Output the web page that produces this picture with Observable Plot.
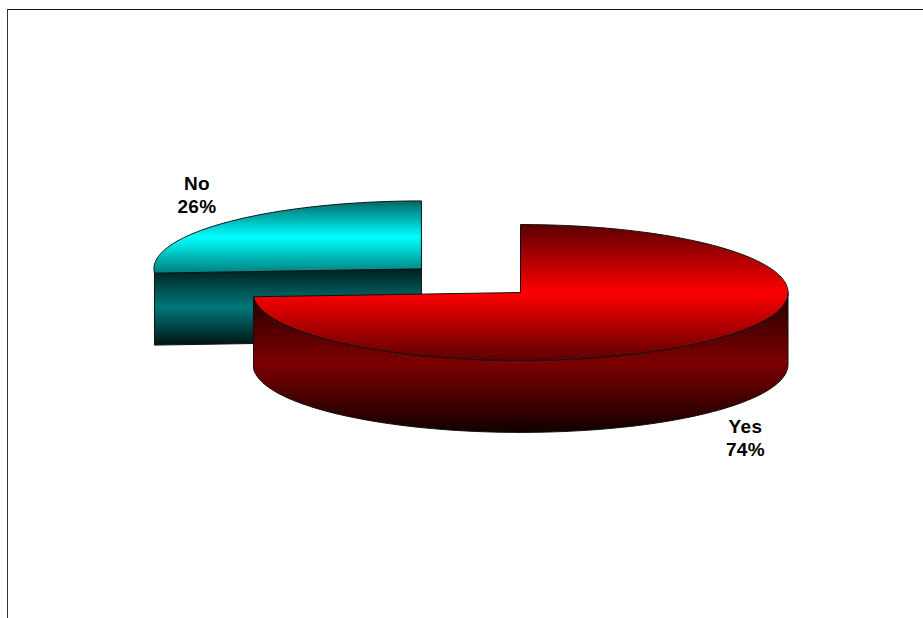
<!DOCTYPE html>
<html>
<head>
<meta charset="utf-8">
<script src="https://cdn.jsdelivr.net/npm/d3@7"></script>
<script src="https://cdn.jsdelivr.net/npm/@observablehq/plot@0.6"></script>
<style>
  html, body { margin: 0; padding: 0; background: #fff; }
  svg { display: block; }
  svg text { letter-spacing: 0.4px; }
</style>
</head>
<body>
<script>
// Survey result
const categories = ["Yes", "No"];
const shares = [74, 26];

// Pie model: one unit is one pie radius.
const pxPerUnit = 267.5;
const tilt = 0.254;        // flattening of the circle into an ellipse
const depth = 0.269;       // thickness of the disc
const explode = 0.508;     // how far the "No" slice is pulled out
const width = 923, height = 618;
const originX = 520, originY = 292;

const xDomain = [-originX / pxPerUnit, (width - originX) / pxPerUnit];
const yDomain = [originY / pxPerUnit, (originY - height) / pxPerUnit];

// Slice angles in radians, clockwise from twelve o'clock.
const total = d3.sum(shares);
let running = 0;
const slices = categories.map((name, i) => {
  const start = (running / total) * 2 * Math.PI;
  running += shares[i];
  const end = (running / total) * 2 * Math.PI;
  const mid = (start + end) / 2;
  const off = name === "No" ? explode : 0;
  return {name, share: shares[i], start, end, mid,
          cx: off * Math.sin(mid), cy: off * Math.cos(mid) * tilt};
});

const rim = (s, a, drop = 0) => ({
  x: s.cx + Math.sin(a),
  y: s.cy + Math.cos(a) * tilt - drop
});
const sweep = (a0, a1) => {
  const n = Math.max(2, Math.ceil(Math.abs(a1 - a0) / (Math.PI / 180)));
  return d3.range(n + 1).map(i => a0 + ((a1 - a0) * i) / n);
};
const centre = (s, drop = 0) => ({x: s.cx, y: s.cy - drop});

// Top face: centre, around the arc, back to the centre.
const topFace = s => [centre(s), ...sweep(s.start, s.end).map(a => rim(s, a)), centre(s)];

// Curved wall: the part of the rim that faces the viewer.
const wall = s => {
  const a0 = Math.max(s.start, Math.PI / 2);
  const a1 = Math.min(s.end, 3 * Math.PI / 2);
  if (a1 <= a0) return [];
  const arc = sweep(a0, a1);
  return [...arc.map(a => rim(s, a)), ...arc.slice().reverse().map(a => rim(s, a, depth)), rim(s, a0)];
};

// Flat cut running from the centre out to the slice's leading edge.
const cutFace = s => [
  centre(s), rim(s, s.start), rim(s, s.start, depth), centre(s, depth), centre(s)
];

const [yes, no] = slices;

// Shaded fills used by the faces of the pie.
const gradients = [
  ["yesTop", ["#5c0000", "#ff0000", "#5c0000"]],
  ["yesWall", ["#200000", "#7d0000", "#120000"]],
  ["noTop", ["#006868", "#00ffff", "#007f7f"]],
  ["noCut", ["#001f1f", "#007878", "#001414"]]
];
const gradientDefs = (index, scales, values, dimensions, context) => {
  const defs = d3.select(context.document.createElementNS(d3.namespaces.svg, "defs"));
  for (const [id, stops] of gradients) {
    const g = defs.append("linearGradient").attr("id", id)
      .attr("x1", 0).attr("x2", 0).attr("y1", 0).attr("y2", 1);
    stops.forEach((c, i) => g.append("stop").attr("offset", i / (stops.length - 1)).attr("stop-color", c));
  }
  return defs.node();
};

const face = (points, fill) => Plot.line(points, {
  x: "x", y: "y", fill, stroke: "#111", strokeWidth: 1, curve: "linear"
});

// Labels sit just outside each slice's rim.
const labels = [
  {x: (196.5 - originX) / pxPerUnit, y: (originY - 182) / pxPerUnit, s: no},
  {x: (745 - originX) / pxPerUnit, y: (originY - 425) / pxPerUnit, s: yes}
];

const frameTop = (originY - 9) / pxPerUnit;
const frameLeft = (7 - originX) / pxPerUnit;

const chart = Plot.plot({
  width, height,
  margin: 0,
  style: {background: "#fff"},
  x: {domain: xDomain, range: [0, width], axis: null},
  y: {domain: yDomain, range: [0, height], axis: null},
  marks: [
    gradientDefs,
    Plot.ruleY([frameTop], {x1: frameLeft, x2: xDomain[1], stroke: "#111", strokeWidth: 1}),
    Plot.ruleX([frameLeft], {y1: frameTop, y2: yDomain[1], stroke: "#333", strokeWidth: 1}),
    face(cutFace(no), "url(#noCut)"),
    face(topFace(no), "url(#noTop)"),
    face(wall(yes), "url(#yesWall)"),
    face(topFace(yes), "url(#yesTop)"),
    Plot.text(labels, {
      x: "x", y: "y",
      text: d => `${d.s.name}\n${d.s.share}%`,
      lineAnchor: "middle",
      lineHeight: 1.25,
      dy: 11.5,
      fontFamily: "Liberation Sans, Arial, sans-serif",
      fontWeight: "bold",
      fontSize: 19,
      fill: "#000"
    })
  ]
});
document.body.append(chart);
</script>
</body>
</html>
